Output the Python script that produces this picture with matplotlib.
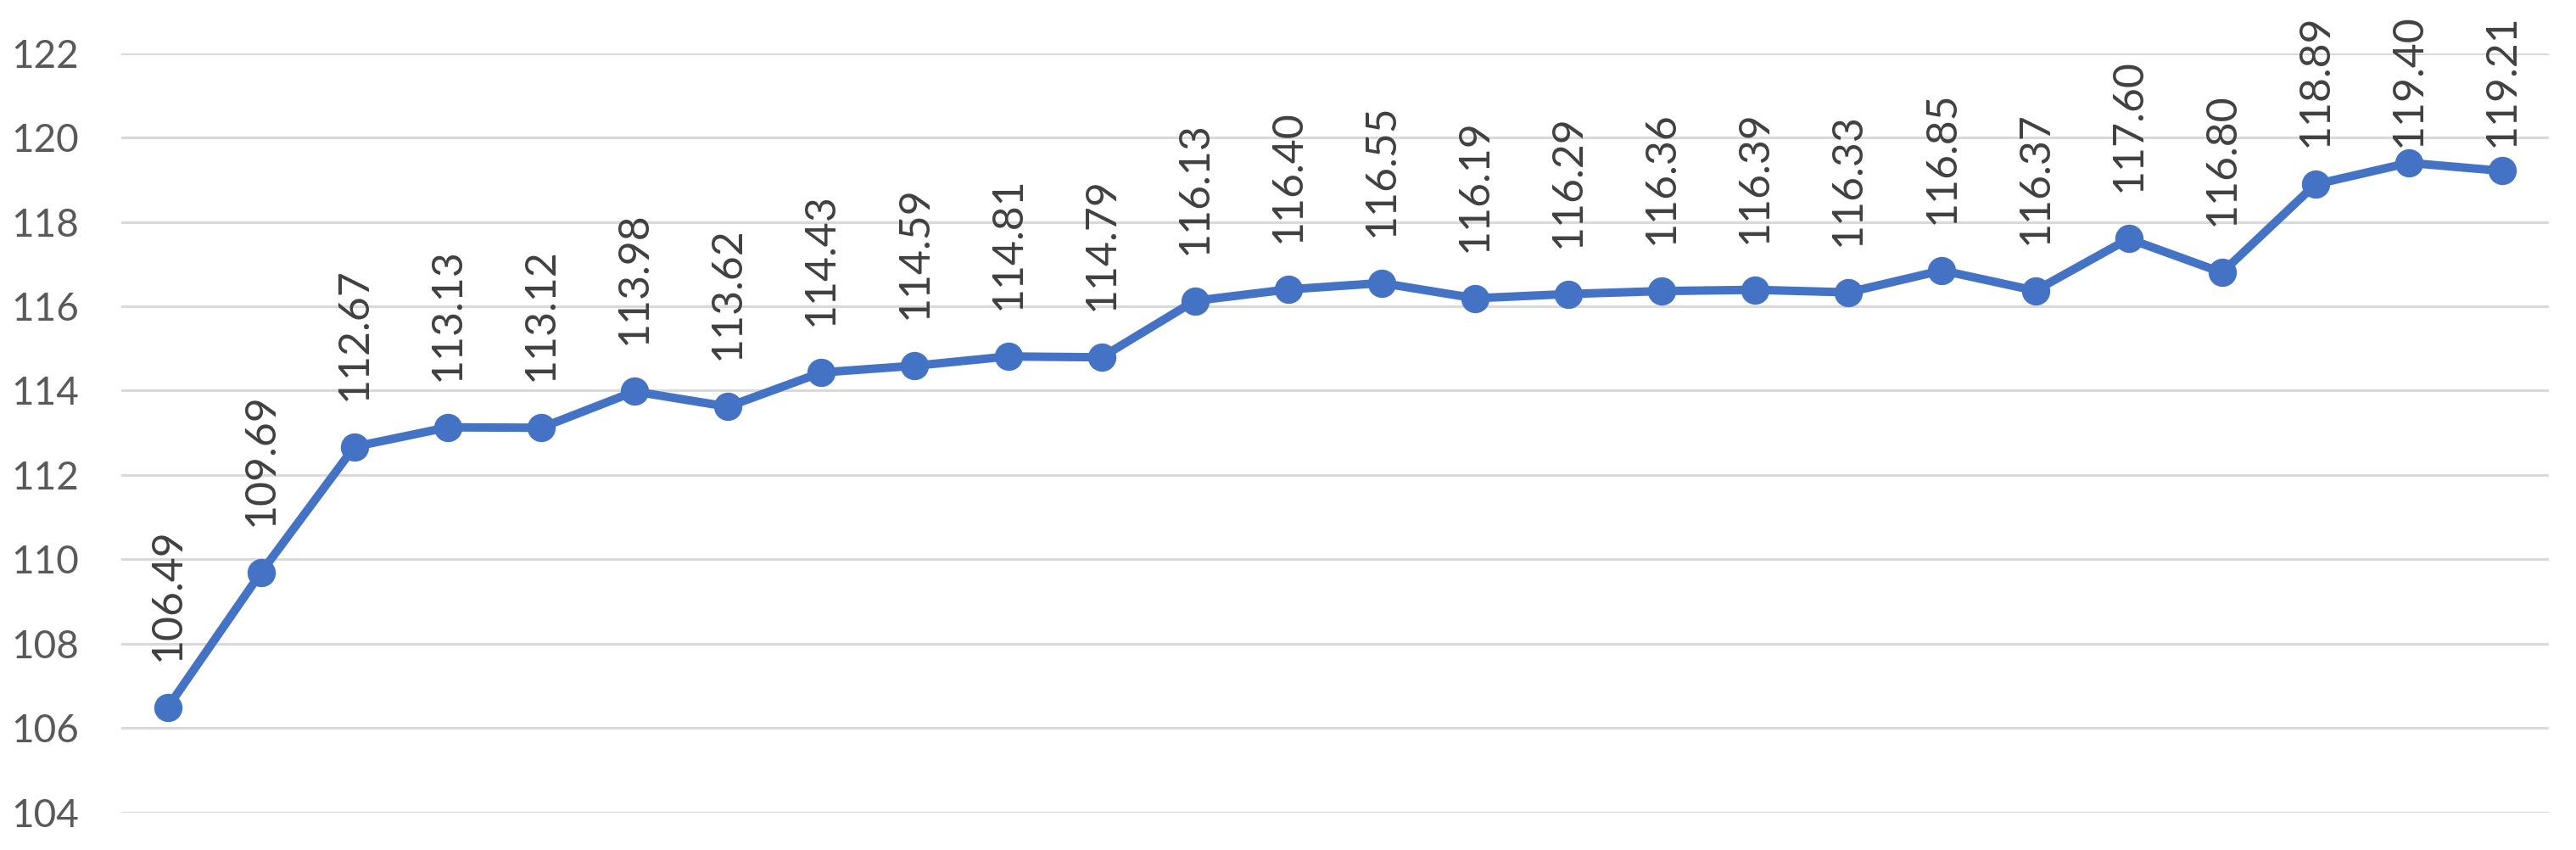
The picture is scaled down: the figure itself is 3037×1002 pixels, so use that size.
import matplotlib
matplotlib.use("Agg")
import matplotlib.pyplot as plt
import numpy as np

values = [106.49, 109.69, 112.67, 113.13, 113.12, 113.98, 113.62, 114.43, 114.59, 114.81,
          114.79, 116.13, 116.40, 116.55, 116.19, 116.29, 116.36, 116.39, 116.33, 116.85,
          116.37, 117.60, 116.80, 118.89, 119.40, 119.21]
y_ticks = [104, 106, 108, 110, 112, 114, 116, 118, 120, 122]

W, H, DPI = 3037, 1002, 100
fig = plt.figure(figsize=(W / DPI, H / DPI), dpi=DPI)
ax = fig.add_axes([142.7 / W, 1 - 957.7 / H, (3005 - 142.7) / W, (957.7 - 62.7) / H])

x = np.arange(len(values))
ax.plot(x, values, color="#4472C4", lw=7.2, marker="o", markersize=23,
        solid_capstyle="round", zorder=3)

ax.set_xlim(-0.5, len(values) - 0.5)
ax.set_ylim(y_ticks[0], y_ticks[-1])
ax.set_yticks(y_ticks)
ax.set_yticklabels([str(t) for t in y_ticks], family="Lato", fontsize=33, color="#595959")
ax.set_xticks([])
ax.tick_params(axis="y", length=0, pad=36)
for s in ax.spines.values():
    s.set_visible(False)
ax.yaxis.grid(True, color="#D9D9D9", lw=2.2)
ax.set_axisbelow(True)

fig.canvas.draw()
text_len_px = 152
top_limit_px = 21  # from top of figure
for xi, v in zip(x, values):
    px, py = ax.transData.transform((xi, v))
    bottom = py + 55  # display coords: y up
    max_bottom = (H - top_limit_px) - text_len_px
    bottom = min(bottom, max_bottom)
    bx, by = fig.transFigure.inverted().transform((px, bottom))
    fig.text(bx, by, f"{v:.2f}", rotation=90, ha="center", va="bottom",
             family="Lato", fontsize=36, color="#404040", rotation_mode="default")

fig.savefig("out.png", dpi=DPI, facecolor="white")
